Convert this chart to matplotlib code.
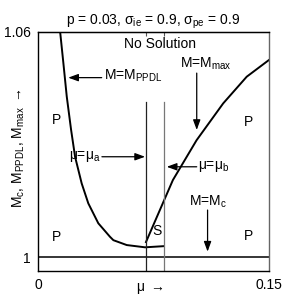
import matplotlib
matplotlib.use("Agg")
import matplotlib.pyplot as plt

plt.rcParams['font.family'] = ['Liberation Sans', 'DejaVu Sans']
plt.rcParams['mathtext.default'] = 'regular'

# ---- data ----
mu_ppdl = [0.0144, 0.0165, 0.0187, 0.0215, 0.0241, 0.0284, 0.0327, 0.0392,
           0.0468, 0.0490, 0.0577, 0.0696, 0.0815]
m_ppdl = [1.0600, 1.0517, 1.0428, 1.0340, 1.0268, 1.0197, 1.0144, 1.0091,
          1.0055, 1.0046, 1.0033, 1.0027, 1.0030]

mu_max = [0.0702, 0.0877, 0.1031, 0.1204, 0.1357, 0.1500]
m_max = [1.0041, 1.0206, 1.0312, 1.0410, 1.0481, 1.0525]

m_c = 1.0
mu_a = 0.0702
mu_b = 0.0819
line_top = 1.0414

x_ticks = [0, 0.15]
x_ticklabels = ['0', '0.15']
y_ticks = [1.0, 1.06]
y_ticklabels = ['1', '1.06']
xlim = (0, 0.15)
ylim = (0.9964, 1.06)

title = r'p = 0.03, $\sigma_{ie}$ = 0.9, $\sigma_{pe}$ = 0.9'

fig = plt.figure(figsize=(2.96, 3.07), dpi=100)
ax = fig.add_axes([0.1284, 0.1173, 0.7794, 0.7785])

ax.plot(mu_ppdl, m_ppdl, color='k', lw=1.4)
ax.plot(mu_max, m_max, color='k', lw=1.4)
ax.axhline(m_c, color='k', lw=1.1)
ax.plot([mu_a, mu_a], [ylim[0], line_top], color='#222222', lw=0.9)
ax.plot([mu_b, mu_b], [ylim[0], line_top], color='#777777', lw=0.9)

ax.set_xlim(*xlim)
ax.set_ylim(*ylim)
ax.set_xticks(x_ticks)
ax.set_xticklabels(x_ticklabels)
ax.set_yticks(y_ticks)
ax.set_yticklabels(y_ticklabels)
ax.tick_params(length=0, labelsize=10, pad=5)

# small top ticks at mu_a and mu_b
sec = ax.secondary_xaxis('top')
sec.set_xticks([mu_a, mu_b])
sec.set_xticklabels(['', ''])
sec.tick_params(direction='in', length=3, width=0.8, color='#555555')

for s in ax.spines.values():
    s.set_linewidth(1.0)
ax.spines['right'].set_color('#666666')

ax.set_title(title, fontsize=10, pad=5)
ax.set_xlabel(r'$\mu$ $\rightarrow$', fontsize=10)
ax.xaxis.set_label_coords(0.484, -0.075)
ax.xaxis.label.set_va('center')
ax.set_ylabel(r'M$_c$, M$_{PPDL}$, M$_{max}$ $\rightarrow$', fontsize=10)
ax.yaxis.set_label_coords(-0.085, 0.515)
ax.yaxis.label.set_va('center')

T = ax.transAxes
fs = 10
ax.text(0.529, 0.950, 'No Solution', transform=T, ha='center', va='center', fontsize=fs)
ax.text(0.080, 0.630, 'P', transform=T, ha='center', va='center', fontsize=fs)
ax.text(0.081, 0.143, 'P', transform=T, ha='center', va='center', fontsize=fs)
ax.text(0.912, 0.625, 'P', transform=T, ha='center', va='center', fontsize=fs)
ax.text(0.912, 0.146, 'P', transform=T, ha='center', va='center', fontsize=fs)
ax.text(0.514, 0.169, 'S', transform=T, ha='center', va='center', fontsize=fs)

ap = dict(arrowstyle='-|>,head_length=0.6,head_width=0.22', color='k', lw=0.9,
          shrinkA=0, shrinkB=0)

ax.text(0.286, 0.816, r'M=M$_{PPDL}$', transform=T, ha='left', va='center', fontsize=fs)
ax.annotate('', xy=(0.131, 0.809), xytext=(0.276, 0.809), xycoords=T, textcoords=T, arrowprops=ap)

ax.text(0.728, 0.866, r'M=M$_{max}$', transform=T, ha='center', va='center', fontsize=fs)
ax.annotate('', xy=(0.688, 0.590), xytext=(0.688, 0.828), xycoords=T, textcoords=T, arrowprops=ap)

ax.text(0.273, 0.478, r'$\mu$=$\mu_a$', transform=T, ha='right', va='center', fontsize=fs)
ax.annotate('', xy=(0.464, 0.478), xytext=(0.277, 0.478), xycoords=T, textcoords=T, arrowprops=ap)

ax.text(0.692, 0.436, r'$\mu$=$\mu_b$', transform=T, ha='left', va='center', fontsize=fs)
ax.annotate('', xy=(0.558, 0.436), xytext=(0.688, 0.436), xycoords=T, textcoords=T, arrowprops=ap)

ax.text(0.735, 0.290, r'M=M$_c$', transform=T, ha='center', va='center', fontsize=fs)
ax.annotate('', xy=(0.735, 0.081), xytext=(0.735, 0.255), xycoords=T, textcoords=T, arrowprops=ap)

fig.savefig('out.png', dpi=100)
